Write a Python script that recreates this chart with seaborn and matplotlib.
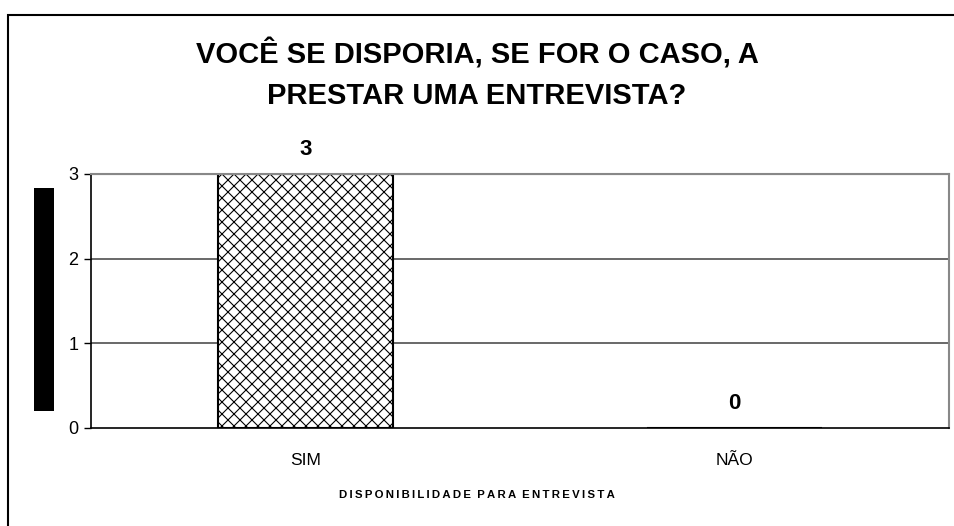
import matplotlib
matplotlib.use("Agg")
import matplotlib.pyplot as plt
import seaborn as sns
import pandas as pd
from matplotlib.patches import Rectangle

categories = ["SIM", "NÃO"]
values = [3, 0]
value_labels = ["3", "0"]
yticks = [0, 1, 2, 3]
title = "VOCÊ SE DISPORIA, SE FOR O CASO, A\nPRESTAR UMA ENTREVISTA?"
xlabel = "DISPONIBILIDADE PARA ENTREVISTA"

DPI = 72
S = 100 / DPI  # sizes below are given as if at 100 dpi

sns.set_theme(style="white")
plt.rcParams["font.family"] = ["Liberation Sans", "DejaVu Sans"]
plt.rcParams["text.color"] = "black"
plt.rcParams["xtick.color"] = "black"
plt.rcParams["ytick.color"] = "black"
plt.rcParams["xtick.labelcolor"] = "black"
plt.rcParams["ytick.labelcolor"] = "black"
plt.rcParams["hatch.color"] = "#404040"
plt.rcParams["hatch.linewidth"] = 1.1

df = pd.DataFrame({"cat": categories, "val": values})

fig = plt.figure(figsize=(954 / DPI, 526 / DPI), dpi=DPI)
ax = fig.add_axes([91/954, 1-428/526, (949-91)/954, (428-174)/526])

sns.barplot(data=df, x="cat", y="val", ax=ax, width=0.41, color="white",
            edgecolor="black", linewidth=1.5 * S, hatch="xx", saturation=1)

ax.set_xlim(-0.5, 1.5)
ax.set_ylim(0, 3)
ax.set_yticks(yticks)
ax.set_yticklabels([str(t) for t in yticks], fontsize=13 * S, color="black")
for t in yticks[1:3]:
    ax.axhline(t, color="#404040", lw=1.1 * S, zorder=0)
ax.axhline(3, color="#888888", lw=1.5 * S, zorder=0)

ax.set_xticks(range(len(categories)))
ax.set_xticklabels(categories, fontsize=12.5 * S, color="black")
ax.tick_params(axis="x", which="major", length=0, pad=18 * S)
ax.set_xticks([-0.5, 0.5, 1.5], minor=True)
ax.tick_params(axis="x", which="minor", length=5 * S, direction="out",
               color="black", width=1 * S)
ax.tick_params(axis="y", length=5 * S, direction="out", color="black",
               width=1 * S, pad=4 * S, left=True)

for s in ["left", "bottom"]:
    ax.spines[s].set_color("black")
    ax.spines[s].set_linewidth(1.2 * S)
for s in ["right", "top"]:
    ax.spines[s].set_color("#888888")
    ax.spines[s].set_linewidth(1.5 * S)

ax.set_xlabel("")
ax.set_ylabel("")

for i, (v, lab) in enumerate(zip(values, value_labels)):
    ax.annotate(lab, (i, v), xytext=(0, 19), textcoords="offset pixels",
                ha="center", va="baseline", fontsize=16 * S, fontweight="bold",
                color="black")

fig.text(477/954, 1-74/526, title, ha="center", va="center", fontsize=21 * S,
         fontweight="bold", linespacing=1.55, color="black")

spaced = "  ".join("\u2009".join(w) for w in xlabel.split(" "))
fig.text(477/954, 1-495/526, spaced, ha="center", va="center", fontsize=8.2 * S,
         fontweight="bold", color="black")

# black block left of the axis
fig.patches.append(Rectangle((34/954, 1-411/526), 20/954, 223/526,
                             transform=fig.transFigure, facecolor="black",
                             edgecolor="none"))
# figure frame
fig.patches.append(Rectangle((7.5/954, -0.01), 1.02, 1-14.5/526 + 0.01,
                             transform=fig.transFigure, facecolor="none",
                             edgecolor="black", linewidth=1.5 * S, clip_on=False))

fig.savefig("out.png", dpi=DPI)
